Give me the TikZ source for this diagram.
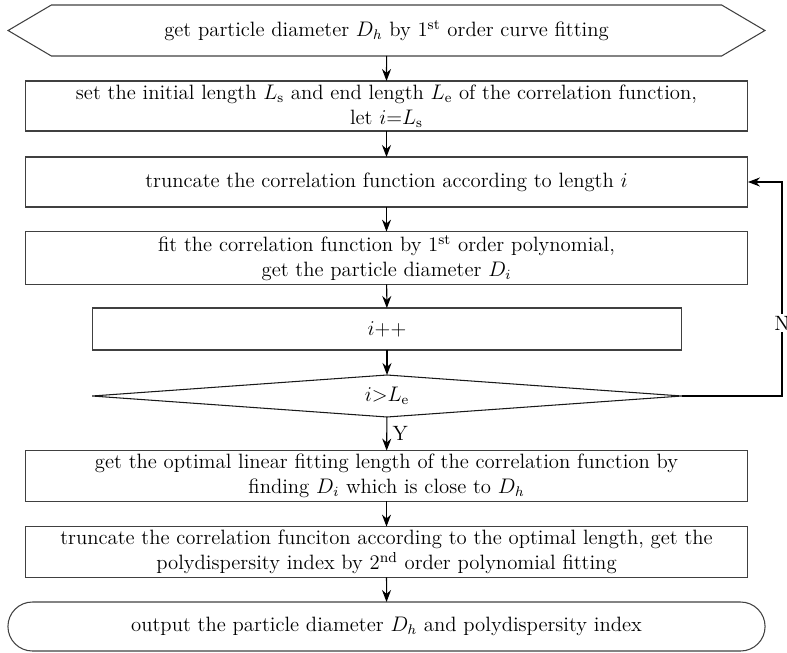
\documentclass[tikz,border=0pt]{standalone}
\usetikzlibrary{shapes.symbols, shapes.misc, shapes.geometric, arrows.meta, positioning}
\tikzset{
  % passo di elaborazione
  procbox/.style={draw=black!75, line width=0.6pt, minimum width=14.46cm,
    minimum height=1cm, align=center, inner sep=2pt, outer sep=0pt},
  % preparazione (esagono)
  prepbox/.style={signal, signal to=west and east, signal pointer angle=61,
    draw=black!75, line width=0.6pt, minimum width=15.14cm, minimum height=1.02cm,
    align=center, inner sep=2pt, outer sep=0pt},
  % decisione
  decbox/.style={diamond, aspect=14, draw=black!90, line width=0.6pt, minimum width=11.8cm,
    minimum height=0.84cm, inner sep=0pt, outer sep=0pt},
  % inizio / fine
  termbox/.style={rounded rectangle, draw=black!75, line width=0.6pt,
    minimum width=15.38cm, minimum height=0.98cm, align=center, outer sep=0pt},
  % freccia del flusso
  flow/.style={-{Stealth[length=2.4mm, width=1.8mm]}, line width=0.6pt},
  lbl/.style={inner sep=1pt},
}

\begin{document}
\begin{tikzpicture}[x=0.02cm, y=-0.02cm,
    every node/.style={font=\fontsize{11.8pt}{14.2pt}\selectfont}]
  \useasboundingbox (0,0) rectangle (787,652);
  \node[prepbox] (curve) at (386.5,30.5) {get particle diameter $D_h$ by 1\textsuperscript{st} order curve fitting};
  \node[procbox] (init) at (386.5,106) {set the initial length $L_\mathrm{s}$ and end length $L_\mathrm{e}$ of the correlation function,\\ let $i$=$L_\mathrm{s}$};
  \node[procbox] (trunc) at (386.5,182) {truncate the correlation function according to length $i$};
  \node[procbox] (fiti) at (386.5,258) {fit the correlation function by 1\textsuperscript{st} order polynomial,\\ get the particle diameter $D_i$};
  \node[procbox, minimum width=11.8cm, minimum height=0.84cm] (incr) at (387,329) {$i$++};
  \node[decbox] (check) at (387,396) {$i$>$L_\mathrm{e}$};
  \node[procbox] (opt) at (386.5,476) {get the optimal linear fitting length of the correlation function by\\ finding $D_i$ which is close to $D_h$};
  \node[procbox] (poly) at (386.5,552) {truncate the correlation funciton according to the optimal length, get the\\ polydispersity index by 2\textsuperscript{nd} order polynomial fitting};
  \node[termbox] (out) at (386.5,626.5) {output the particle diameter $D_h$ and polydispersity index};
  \coordinate (back) at (782,182);

  \draw[flow] (curve) -- (init);
  \draw[flow] (init) -- (trunc);
  \draw[flow] (trunc) -- (fiti);
  \draw[flow] (fiti) -- (incr);
  \draw[flow] (incr) -- (check);
  \draw[flow] (check) -- node[lbl, right=2pt] {Y} (opt);
  \draw[flow] (opt) -- (poly);
  \draw[flow] (poly) -- (out);
  \draw[flow] (check.east) -| node[lbl, pos=0.67, fill=white] {N} (back) -- (trunc.east);
\end{tikzpicture}
\end{document}
